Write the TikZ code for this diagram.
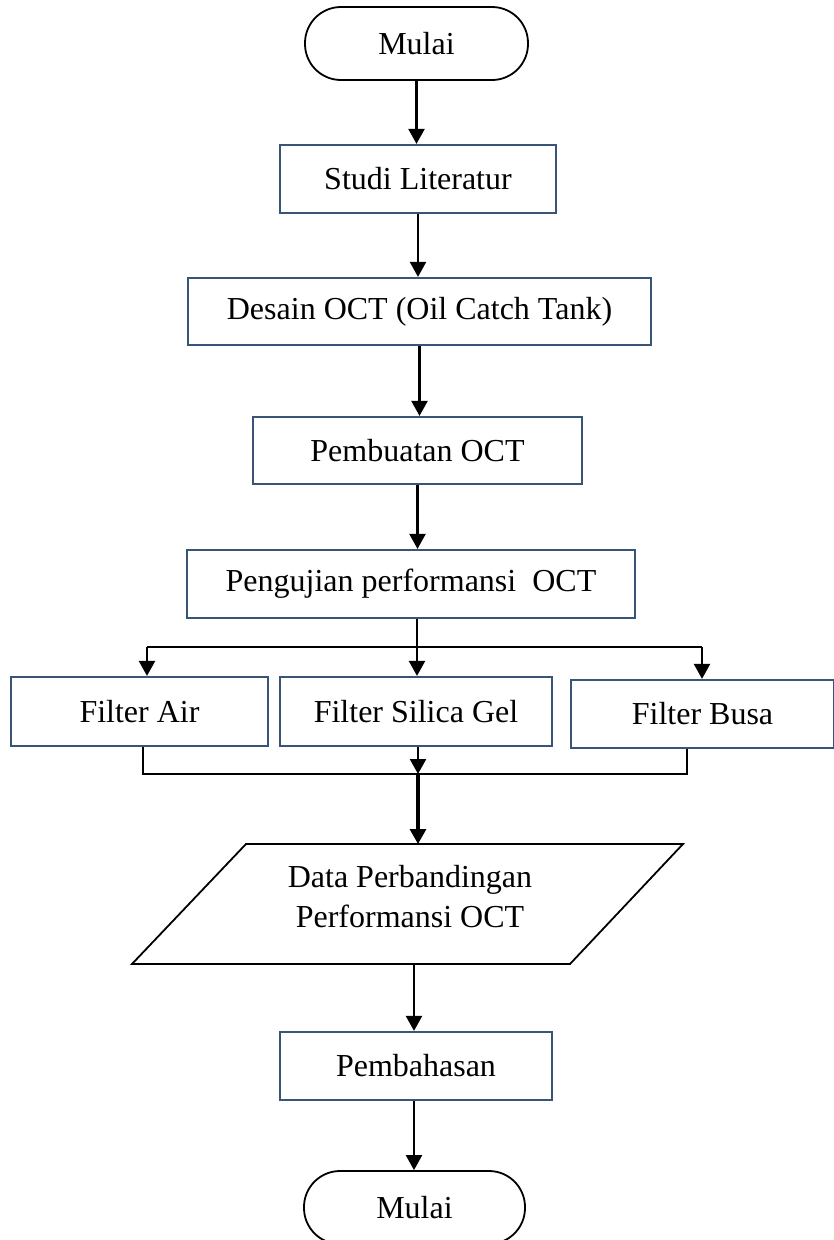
\documentclass[tikz,border=0pt]{standalone}
\usepackage{fontspec}
\setmainfont{Liberation Serif}
\usetikzlibrary{arrows.meta}
\definecolor{boxc}{RGB}{58,84,120}
\begin{document}
\begin{tikzpicture}[x=1pt,y=-1pt,
  font=\fontsize{32}{40}\selectfont,
  proc/.style={draw=boxc,line width=2.2pt,inner sep=0pt,minimum height=68pt},
  term/.style={draw=black,line width=1.8pt,inner sep=0pt,minimum height=73pt,rounded corners=36pt},
  arr/.style={line width=2.3pt,-{Triangle[length=15pt,width=16pt]}},
  ln/.style={line width=2.3pt}]
\useasboundingbox (0,0) rectangle (834,1240);
\node[term,minimum width=223pt] (start) at (416.5,43.5) {Mulai};
\node[proc,minimum width=276pt] (studi) at (418,179) {Studi Literatur};
\node[proc,minimum width=463pt,minimum height=67pt] (desain) at (419.5,311.5) {Desain OCT (Oil Catch Tank)};
\node[proc,minimum width=329pt,minimum height=67pt] (buat) at (417.5,450.5) {Pembuatan OCT};
\node[proc,minimum width=448pt] (uji) at (411,584) {Pengujian performansi\ \ OCT};
\node[proc,minimum width=257pt,minimum height=69pt] (air) at (139.5,711.5) {Filter Air};
\node[proc,minimum width=272pt,minimum height=69pt] (silica) at (416,711.5) {Filter Silica Gel};
\node[proc,minimum width=263pt] (busa) at (702.5,714) {Filter Busa};
\node[align=center,inner sep=0pt] (data) at (410,897) {Data Perbandingan\\Performansi OCT};
\draw[line width=1.8pt] (246,844) -- (683,844) -- (570,964) -- (132,964) -- cycle;
\coordinate (dtop) at (418,844);
\coordinate (dbot) at (414,964);
\node[proc,minimum width=272pt] (bahas) at (416,1066) {Pembahasan};
\node[term,minimum width=221pt] (end) at (414.5,1207.5) {Mulai};
% main flow
\draw[arr] (start.south) -- (start.south |- studi.north);
\draw[arr] (studi.south) -- (studi.south |- desain.north);
\draw[arr] (desain.south) -- (desain.south |- buat.north);
\draw[arr] (buat.south) -- (buat.south |- uji.north);
% branch
\coordinate (bc) at (417,647);
\coordinate (bl) at (147,647);
\coordinate (brr) at (702,647);
\draw[ln] (uji.south -| bc) -- (bc);
\draw[ln] (bl) -- (brr);
\draw[arr] (bl) -- (bl |- air.north);
\draw[arr] (bc) -- (bc |- silica.north);
\draw[arr] (brr) -- (brr |- busa.north);
% merge
\coordinate (ml) at (143,774);
\coordinate (mr) at (687,774);
\coordinate (mc) at (418,774);
\draw[ln] (air.south -| ml) -- (ml) -- (mr) -- (busa.south -| mr);
\draw[arr] (silica.south -| mc) -- (mc);
\draw[arr,line width=3.3pt] (mc) -- (dtop);
\draw[arr] (dbot) -- (dbot |- bahas.north);
\draw[arr] (bahas.south -| dbot) -- (dbot |- end.north);
\end{tikzpicture}
\end{document}
